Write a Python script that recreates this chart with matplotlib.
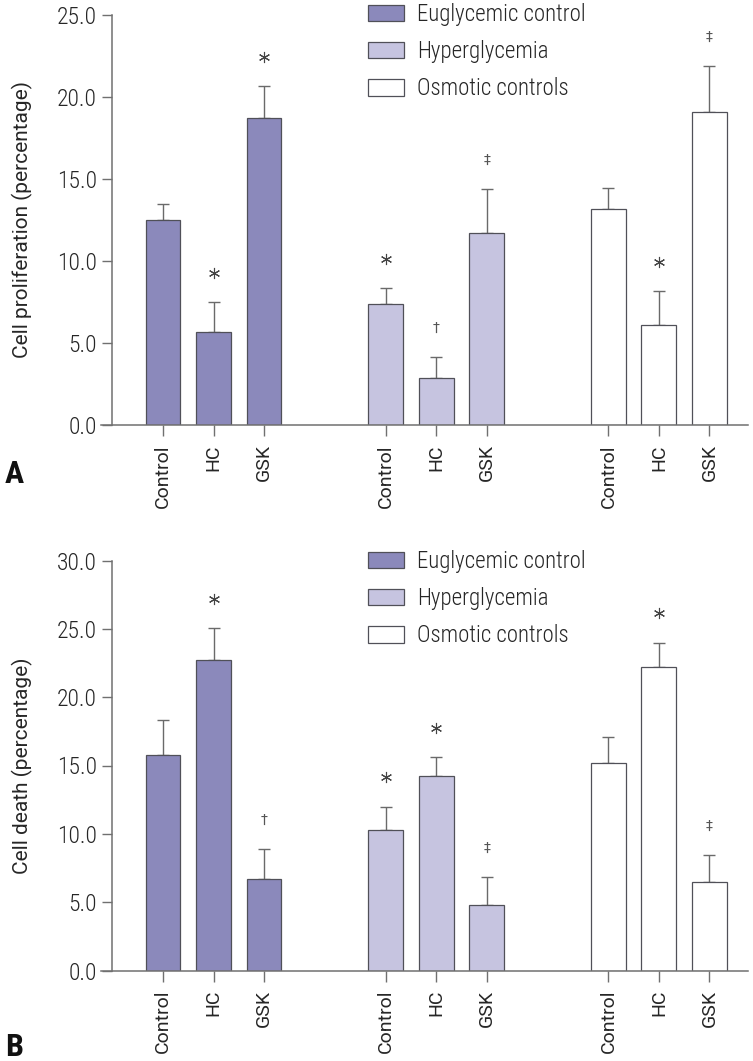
import matplotlib
matplotlib.use("Agg")
import matplotlib.pyplot as plt
import matplotlib.transforms as mtransforms
from matplotlib.patches import Patch
import numpy as np

groups = ["Euglycemic control", "Hyperglycemia", "Osmotic controls"]
treatments = ["Control", "HC", "GSK"]
group_colors = ["#8b89bb", "#c6c4e0", "#ffffff"]

prolif_mean = [[12.5, 5.7, 18.7], [7.35, 2.85, 11.7], [13.2, 6.1, 19.1]]
prolif_err = [[0.98, 1.8, 1.97], [1.0, 1.3, 2.7], [1.28, 2.07, 2.77]]
prolif_marks = [["", "*", "*"], ["*", "†", "‡"], ["", "*", "‡"]]
prolif_ticks = [0, 5, 10, 15, 20, 25]

death_mean = [[15.8, 22.7, 6.7], [10.3, 14.2, 4.8], [15.2, 22.2, 6.5]]
death_err = [[2.5, 2.35, 2.2], [1.7, 1.4, 2.05], [1.85, 1.8, 1.95]]
death_marks = [["", "*", "†"], ["*", "*", "‡"], ["", "*", "‡"]]
death_ticks = [0, 5, 10, 15, 20, 25, 30]

W, H = 753, 1061
fig = plt.figure(figsize=(W / 100, H / 100), dpi=100)

COND = ["Roboto Condensed", "Barlow Semi Condensed", "Asap Condensed",
        "Liberation Sans Narrow", "Liberation Sans", "DejaVu Sans"]
REG = ["Roboto", "Liberation Sans", "DejaVu Sans"]
SYM = ["DejaVu Sans"]

group_gap = 4.41
bar_w = 0.69
ax_left_px, ax_right_px = 101, 748
spine_px = 112
x0_px = 163
px_per_unit = 50.5

spine_col = "#707070"
edge_col = "#505058"
err_col = "#6a6a6a"
text_col = "#262626"


def panel(bottom_px, top_px, means, errs, marks, ticks, ylabel, leg_y_px, letter, letter_y_px):
    ax = fig.add_axes([ax_left_px / W, 1 - bottom_px / H,
                       (ax_right_px - ax_left_px) / W, (bottom_px - top_px) / H])
    for sp in ["top", "right"]:
        ax.spines[sp].set_visible(False)
    ax.spines["left"].set_position(("axes", (spine_px - ax_left_px) / (ax_right_px - ax_left_px)))
    for sp in ["left", "bottom"]:
        ax.spines[sp].set_color(spine_col)
        ax.spines[sp].set_linewidth(1.1)

    above = mtransforms.offset_copy(ax.transData, fig=fig, x=0, y=21, units="points")
    for g in range(3):
        xs = g * group_gap + np.arange(3)
        m = np.array(means[g])
        e = np.array(errs[g])
        ax.errorbar(xs, m, yerr=[np.zeros(3), e], fmt="none", ecolor=err_col,
                    elinewidth=1.0, capsize=4.2, capthick=1.0, zorder=1)
        ax.bar(xs, m, width=bar_w, color=group_colors[g], edgecolor=edge_col,
               linewidth=0.9, zorder=2, label=groups[g])
        for i in range(3):
            s = marks[g][i]
            if not s:
                continue
            if s == "*":
                ax.plot([xs[i]], [m[i] + e[i]], marker=(6, 2, 0), markersize=8,
                        markeredgewidth=0.8, color="#444444", transform=above,
                        clip_on=False, zorder=3)
            else:
                ax.annotate(s, (xs[i], m[i] + e[i]), xytext=(0, 21),
                            textcoords="offset points", ha="center", va="center",
                            fontsize=10, color="#555555", family=SYM, zorder=3)
    xs_all = np.concatenate([g * group_gap + np.arange(3) for g in range(3)])
    ax.set_xlim((ax_left_px - x0_px) / px_per_unit, (ax_right_px - x0_px) / px_per_unit)
    ax.set_ylim(ticks[0], ticks[-1])
    ax.tick_params(axis="y", length=7, width=1.0, color=spine_col, pad=4)
    ax.tick_params(axis="x", length=8, width=1.0, color=spine_col, pad=6)
    ax.set_xticks(xs_all)
    ax.set_xticklabels(treatments * 3, rotation=90, family=REG, fontsize=14,
                       color=text_col)
    ax.set_yticks(ticks)
    ax.set_yticklabels([f"{t:.1f}" for t in ticks], family=COND, fontsize=17,
                       fontweight="light", color=text_col)
    ax.set_ylabel(ylabel, family=REG, fontsize=15, color=text_col)
    ax.yaxis.set_label_coords((33 - ax_left_px) / (ax_right_px - ax_left_px), 0.5)

    handles = [Patch(facecolor=group_colors[g], edgecolor=edge_col, linewidth=0.9,
                     label=groups[g]) for g in range(3)]
    leg = fig.legend(handles=handles, loc="upper left",
                     bbox_to_anchor=(368 / W, 1 - leg_y_px / H),
                     frameon=False, borderpad=0, borderaxespad=0,
                     handlelength=1.55, handleheight=0.72, handletextpad=0.6,
                     labelspacing=0.62,
                     prop={"family": COND, "size": 16.5, "weight": "light"})
    for t in leg.get_texts():
        t.set_color(text_col)
    fig.text(5 / W, 1 - letter_y_px / H, letter, family=COND, fontsize=23,
             fontweight="bold", color="#111111", ha="left", va="baseline")
    return ax


panel(425, 15, prolif_mean, prolif_err, prolif_marks, prolif_ticks,
      "Cell proliferation (percentage)", 3, "A", 483)
panel(970.5, 560.5, death_mean, death_err, death_marks, death_ticks,
      "Cell death (percentage)", 550, "B", 1056)

fig.savefig("out.png", dpi=100, facecolor="white")
